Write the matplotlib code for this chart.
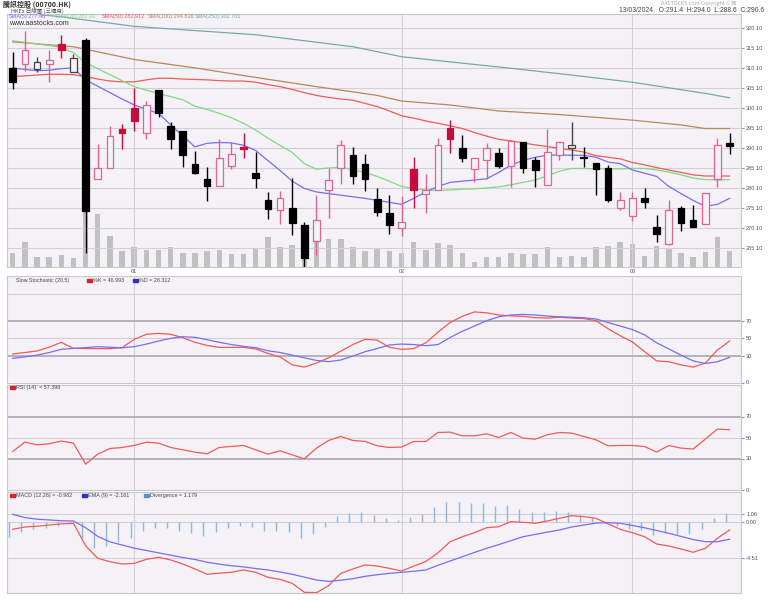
import matplotlib
matplotlib.use('Agg')
import matplotlib.pyplot as plt
import numpy as np

# ---- data (00700.HK, daily, 3 months) ----
opens = [310.2, 311.1, 309.8, 311.1, 316.2, 309.2, 317.2, 282.3, 285.2, 295.0,
         300.1, 294.0, 304.6, 295.6, 294.5, 286.1, 282.3, 280.6, 285.7, 290.3,
         283.9, 277.1, 274.7, 275.1, 270.8, 266.9, 279.7, 285.2, 288.4, 286.0,
         277.3, 273.9, 270.1, 284.8, 278.6, 279.7, 295.2, 290.0, 284.8, 287.1,
         288.8, 285.7, 291.5, 287.1, 280.8, 288.3, 290.0, 287.7, 286.4, 285.2,
         275.2, 273.1, 277.5, 270.3, 266.0, 275.0, 272.1, 271.2, 282.3, 291.4]
highs = [314.2, 319.5, 312.8, 314.7, 318.4, 313.8, 317.6, 291.1, 295.7, 296.1,
         305.2, 301.9, 304.6, 296.7, 294.5, 289.3, 285.3, 292.5, 291.5, 294.0,
         289.2, 279.1, 279.4, 282.7, 271.6, 278.4, 285.0, 292.1, 290.4, 288.6,
         280.2, 278.3, 278.1, 287.8, 283.6, 292.7, 297.1, 293.5, 287.7, 291.3,
         290.0, 291.9, 291.5, 287.8, 294.9, 291.5, 296.7, 290.4, 286.4, 285.8,
         279.1, 279.1, 280.2, 273.3, 277.2, 275.6, 275.8, 278.8, 292.7, 294.0]
lows = [304.8, 309.4, 309.2, 306.7, 312.6, 309.2, 263.7, 282.3, 285.0, 289.8,
        294.4, 292.5, 297.9, 289.8, 285.3, 283.5, 276.9, 280.6, 284.8, 287.7,
        280.0, 272.3, 271.2, 268.3, 260.1, 263.3, 272.5, 281.0, 281.2, 279.4,
        273.1, 268.5, 268.1, 275.1, 273.9, 279.7, 288.9, 286.5, 281.7, 282.3,
        285.2, 280.4, 283.9, 280.4, 280.8, 287.0, 287.1, 285.4, 278.3, 276.5,
        274.7, 271.9, 275.0, 266.5, 265.8, 269.4, 270.4, 271.2, 280.4, 288.6]
closes = [306.7, 314.7, 311.7, 312.1, 314.6, 312.7, 274.4, 285.2, 293.1, 293.9,
          296.9, 300.9, 299.0, 292.5, 288.3, 283.9, 280.5, 287.5, 288.5, 289.8,
          282.7, 274.8, 277.7, 271.4, 262.5, 272.2, 282.0, 290.9, 283.1, 282.3,
          274.0, 270.8, 271.6, 279.6, 279.7, 290.9, 292.4, 287.5, 287.7, 290.2,
          285.7, 291.9, 285.0, 284.5, 289.0, 291.5, 290.9, 287.7, 284.9, 277.0,
          277.2, 277.5, 276.5, 268.5, 274.7, 271.4, 270.4, 278.8, 290.9, 290.6]
prev_close0 = 311.0
volume = [14.3, 25.3, 10.3, 10.3, 12.0, 8.7, 58.0, 53.0, 31.0, 16.3,
          19.7, 17.0, 17.0, 19.7, 13.7, 13.7, 16.0, 17.0, 12.7, 13.0,
          18.0, 29.7, 19.7, 22.0, 24.0, 28.7, 27.7, 28.0, 20.3, 16.3,
          18.0, 16.3, 14.3, 25.3, 17.0, 23.7, 22.0, 14.3, 5.3, 9.7,
          10.3, 14.0, 12.7, 12.7, 19.7, 9.7, 11.0, 9.7, 19.7, 21.3,
          24.7, 23.0, 11.0, 21.3, 19.3, 14.3, 10.3, 14.7, 29.7, 16.3]

sma5 = [310.2, 309.8, 309.5, 309.6, 310.0, 310.2, 307.2, 305.6, 304.0, 302.4,
        300.9, 299.8, 298.8, 295.9, 293.2, 290.4, 291.3, 291.5, 291.4, 290.8,
        289.5, 287.0, 284.5, 281.8, 280.0, 279.1, 278.7, 278.3, 277.9, 277.5,
        277.0, 276.5, 276.0, 277.5, 279.1, 280.5, 281.5, 281.8, 282.1, 282.4,
        284.0, 285.8, 287.0, 287.8, 288.3, 288.4, 288.3, 288.3, 287.8, 286.6,
        286.2, 284.6, 283.8, 283.0, 280.5, 278.7, 277.0, 275.5, 276.0, 277.5]
sma20 = [317.0, 316.6, 316.2, 315.8, 315.3, 314.0, 311.5, 310.0, 308.5, 307.0,
         305.5, 304.6, 303.8, 303.0, 302.2, 300.6, 299.8, 298.8, 297.7, 296.3,
         294.6, 292.6, 290.8, 289.0, 286.2, 284.8, 285.1, 285.3, 284.7, 284.0,
         283.0, 281.8, 280.5, 280.0, 279.6, 279.5, 279.6, 279.8, 279.9, 280.1,
         280.4, 280.9, 281.5, 282.1, 283.2, 284.3, 285.0, 285.0, 284.9, 284.9,
         284.9, 285.0, 285.0, 284.6, 284.1, 283.4, 282.6, 282.2, 282.1, 282.2]
sma50 = [308.0, 308.2, 308.4, 308.6, 308.6, 308.5, 308.0, 307.4, 306.9, 306.7,
         306.7, 307.2, 307.6, 307.6, 307.4, 307.3, 307.2, 307.0, 306.9, 306.9,
         306.6, 306.0, 305.5, 304.8, 304.0, 303.3, 302.8, 302.4, 302.1, 301.3,
         300.5, 299.4, 298.2, 297.6, 296.9, 296.3, 295.7, 295.0, 294.0, 293.1,
         292.3, 291.9, 291.4, 290.9, 290.5, 290.0, 289.6, 289.1, 288.2, 287.8,
         287.4, 286.5, 285.9, 285.2, 284.6, 284.0, 283.4, 283.1, 283.1, 283.1]
sma100_idx = [0, 5, 10, 15, 20, 25, 30, 32, 36, 40, 45, 51, 55, 57, 59]
sma100 = [316.7, 315.5, 312.3, 310.2, 307.8, 305.5, 303.3, 301.9, 300.9, 299.4,
          298.5, 297.1, 295.9, 295.0, 295.0]
sma250_idx = [0, 4, 10, 20, 28, 32, 36, 41, 46, 51, 57, 59]
sma250 = [324.2, 323.0, 320.6, 318.5, 315.5, 313.0, 311.7, 310.1, 308.4, 306.6,
          303.8, 302.7]

stoch_k = [32.3, 34.0, 35.7, 40.0, 45.5, 38.7, 38.5, 38.4, 38.4, 39.4,
           48.9, 54.6, 55.7, 54.6, 50.8, 45.5, 42.0, 39.8, 39.8, 39.8,
           38.0, 33.0, 29.0, 20.0, 17.5, 22.0, 28.0, 35.5, 43.0, 49.0,
           48.0, 40.0, 37.5, 38.5, 45.0, 57.0, 68.0, 75.0, 80.0, 79.0,
           76.5, 75.5, 75.0, 73.5, 73.0, 74.0, 73.0, 72.5, 70.0, 61.0,
           53.0, 46.0, 35.0, 24.5, 23.5, 20.0, 17.5, 22.0, 36.8, 47.0]
stoch_d = [27.4, 29.0, 31.1, 34.0, 37.6, 38.7, 39.5, 40.6, 40.0, 39.4,
           40.6, 43.5, 47.0, 50.0, 51.9, 51.2, 48.5, 45.5, 43.0, 41.0,
           39.4, 36.0, 34.0, 31.0, 28.0, 25.0, 23.6, 25.5, 30.0, 34.9,
           38.5, 42.5, 43.6, 43.0, 41.7, 43.0, 51.0, 58.0, 64.0, 70.0,
           74.5, 76.5, 77.2, 76.5, 75.3, 74.5, 74.0, 73.4, 72.0, 68.0,
           64.0, 60.0, 54.0, 45.0, 38.0, 31.0, 24.5, 21.5, 23.5, 28.5]
rsi = [36.7, 45.6, 43.0, 44.0, 46.6, 44.6, 24.6, 34.2, 39.5, 40.5,
       42.4, 45.6, 44.6, 40.5, 38.3, 36.0, 34.5, 40.5, 41.5, 42.4,
       38.3, 34.2, 37.3, 33.5, 29.7, 39.9, 47.2, 51.0, 47.2, 46.3,
       42.1, 40.5, 40.9, 46.2, 46.2, 54.8, 55.1, 51.6, 51.6, 53.5,
       50.0, 54.8, 49.4, 48.4, 52.6, 54.8, 54.2, 51.0, 47.8, 42.1,
       42.4, 42.4, 41.4, 36.1, 42.4, 39.9, 39.0, 48.4, 58.0, 57.4]
macd = [-0.89, -0.60, -0.50, -0.35, -0.20, -0.13, -2.99, -4.60, -5.03, -5.33,
        -5.25, -4.73, -4.47, -4.81, -5.33, -5.96, -6.64, -6.50, -6.39, -6.09,
        -6.39, -7.02, -7.30, -7.79, -8.94, -8.98, -8.09, -6.52, -5.96, -5.45,
        -5.58, -5.88, -6.22, -5.60, -5.00, -3.90, -2.48, -1.84, -1.33, -0.69,
        -0.56, 0.08, 0.00, -0.13, 0.17, 0.51, 0.85, 0.72, 0.51, -0.20,
        -0.89, -1.33, -1.84, -2.77, -3.03, -3.41, -3.83, -3.32, -2.04, -0.98]
macd_ema = [1.02, 0.60, 0.40, 0.30, 0.20, 0.17, -0.69, -1.80, -2.50, -2.90,
            -3.30, -3.60, -3.90, -4.20, -4.50, -4.75, -5.10, -5.35, -5.55, -5.70,
            -5.90, -6.09, -6.35, -6.64, -7.00, -7.37, -7.55, -7.40, -7.20, -6.90,
            -6.70, -6.52, -6.39, -6.25, -6.09, -5.50, -4.94, -4.40, -3.85, -3.32,
            -2.85, -2.35, -1.84, -1.55, -1.25, -0.98, -0.60, -0.35, -0.10, -0.04,
            -0.13, -0.40, -0.70, -1.05, -1.40, -1.80, -2.20, -2.48, -2.48, -2.16]
divergence = [-1.83, -1.19, -0.89, -0.77, -0.43, -0.21, -2.04, -3.23, -2.98, -2.55,
              -1.96, -1.11, -0.68, -0.77, -1.06, -1.32, -1.70, -1.28, -0.77, -0.43,
              -0.55, -1.06, -1.11, -1.28, -1.96, -1.53, -0.55, 0.81, 1.23, 1.36,
              0.94, 0.51, 0.30, 0.72, 1.02, 1.91, 2.64, 2.55, 2.51, 2.51,
              2.13, 2.21, 1.70, 1.28, 1.28, 1.45, 1.28, 0.94, 0.64, 0.05,
              -0.43, -0.89, -0.98, -1.62, -1.40, -1.49, -1.53, -0.85, 0.51, 1.23]

month_pos = [10, 32, 51]
month_labels = ['01', '02', '03']
price_ticks = [265.1, 270.1, 275.1, 280.1, 285.1, 290.1, 295.1, 300.1, 305.1, 310.1, 315.1, 320.1]

# ---- layout ----
W, H = 768, 601
BG = '#f4f2f7'
GRID = '#d2d0d6'
PINK = '#e0648e'
CRIMSON = '#c30c3c'
PURPLE = '#7b6cf0'
GREEN = '#84d684'
RED = '#f25a5a'
BROWN = '#b8875e'
TEAL = '#78a8aa'
LAT = 'Liberation Sans'
CJK = ['Noto Sans CJK TC', 'Liberation Sans']


def rect(l, t, r, b):
    return [l / W, 1 - b / H, (r - l) / W, (b - t) / H]


def style(ax):
    ax.set_facecolor(BG)
    for s in ax.spines.values():
        s.set_color('#c8c8cc')
        s.set_linewidth(0.8)
    ax.yaxis.tick_right()
    ax.tick_params(axis='y', which='both', length=2.5, color='#999999',
                   labelsize=4.1, labelcolor='#555555', pad=1.2)
    ax.tick_params(axis='x', length=0, labelsize=4.1, labelcolor='#555555', pad=1.5)
    for lab in ax.get_yticklabels() + ax.get_xticklabels():
        lab.set_family(LAT)
    ax.set_xlim(-0.47, 59.94)
    for m in month_pos:
        ax.axvline(m, color=GRID, lw=0.8, zorder=1)


def fix_fonts(ax):
    for lab in ax.get_yticklabels() + ax.get_xticklabels():
        lab.set_family(LAT)


fig = plt.figure(figsize=(W / 100, H / 100), dpi=100)
n = len(closes)
x = np.arange(n)

# price panel with volume behind
vax = fig.add_axes(rect(7, 14, 741, 267))
vax.set_facecolor(BG)
vax.bar(x, volume, width=0.45, color='#c0c0c0', zorder=1)
vax.set_ylim(0, 253)
vax.set_xlim(-0.47, 59.94)
vax.set_xticks([])
vax.set_yticks([])
for s in vax.spines.values():
    s.set_visible(False)

ax = fig.add_axes(rect(7, 14, 741, 267))
style(ax)
ax.patch.set_visible(False)
ax.set_ylim(260.3, 323.7)
ax.set_yticks(price_ticks)
ax.set_yticklabels(['%.2f' % t for t in price_ticks])
for t in price_ticks:
    ax.axhline(t, color=GRID, lw=0.8, zorder=0)
ax.set_xticks(month_pos)
ax.set_xticklabels(month_labels)
fix_fonts(ax)

ax.plot(sma250_idx, sma250, color=TEAL, lw=0.9, zorder=2)
ax.plot(sma100_idx, sma100, color=BROWN, lw=0.9, zorder=2)
ax.plot(x, sma50, color=RED, lw=0.9, zorder=2)
ax.plot(x, sma20, color=GREEN, lw=0.9, zorder=2)
ax.plot(x, sma5, color=PURPLE, lw=0.9, zorder=2)

prev = [prev_close0] + closes[:-1]
for i in range(n):
    o, h, l, c = opens[i], highs[i], lows[i], closes[i]
    rise = c >= prev[i]
    hollow = c > o
    if hollow:
        edge = PINK if rise else '#444444'
        face = BG
    else:
        edge = CRIMSON if rise else 'black'
        face = edge
    ax.vlines(i, l, h, color=edge, lw=1.0, zorder=3)
    ax.bar(i, max(abs(c - o), 0.15), bottom=min(o, c), width=0.55,
           facecolor=face, edgecolor=edge, lw=0.9, zorder=4)

# slow stochastic
sax = fig.add_axes(rect(7, 276, 741, 382.5))
style(sax)
sax.set_ylim(0, 120.7)
sax.set_yticks([0, 30, 50, 70])
sax.set_xticks([])
fix_fonts(sax)
for lvl, c, w in [(100, GRID, 0.8), (70, '#b4b2b8', 1.4), (50, GRID, 0.8), (30, '#b4b2b8', 1.4)]:
    sax.axhline(lvl, color=c, lw=w, zorder=1)
sax.plot(x, stoch_k, color=RED, lw=0.9, zorder=3)
sax.plot(x, stoch_d, color=PURPLE, lw=0.9, zorder=3)

# RSI
rax = fig.add_axes(rect(7, 385, 741, 490))
style(rax)
rax.set_ylim(0, 100)
rax.set_yticks([0, 30, 50, 70])
rax.set_xticks([])
fix_fonts(rax)
for lvl, c, w in [(70, '#b4b2b8', 1.4), (50, GRID, 0.8), (30, '#b4b2b8', 1.4)]:
    rax.axhline(lvl, color=c, lw=w, zorder=1)
rax.plot(x, rsi, color=RED, lw=0.9, zorder=3)

# MACD
max_ = fig.add_axes(rect(7, 491.7, 741, 593.3))
style(max_)
max_.set_ylim(-9.07, 3.91)
max_.set_yticks([-4.51, 0.0, 1.06])
max_.set_yticklabels(['-4.51', '0.00', '1.06'])
max_.set_xticks([])
fix_fonts(max_)
for lvl in [1.06, 0.0, -4.51]:
    max_.axhline(lvl, color=GRID, lw=0.8, zorder=1)
max_.vlines(x - 0.3, 0, divergence, color='#8cb8e2', lw=1.0, zorder=2)
max_.plot(x, macd, color=RED, lw=0.9, zorder=3)
max_.plot(x, macd_ema, color=PURPLE, lw=0.9, zorder=3)


def ftext(px, py, s, **kw):
    kw.setdefault('fontsize', 3.9)
    kw.setdefault('va', 'center')
    kw.setdefault('family', LAT)
    fig.text(px / W, 1 - py / H, s, **kw)


def box(px, py, c):
    fig.patches.append(plt.Rectangle((px / W, 1 - (py + 1.5) / H), 5 / W, 3 / H,
                                     transform=fig.transFigure, color=c))


# header
ftext(3, 4, '騰訊控股 (00700.HK)', fontsize=5.0, color='#333333', family=CJK, weight='bold')
ftext(11, 10.5, 'HKEx 日線圖 (三個月)', fontsize=4.0, color='#444444', family=CJK)
sma_labels = [(9, 'SMA(5):277.46', PURPLE), (56, 'SMA(20):282.93', GREEN),
              (102, 'SMA(50):282.912', RED), (148, 'SMA(100):294.836', BROWN),
              (195, 'SMA(250):302.701', TEAL)]
for px, s, c in sma_labels:
    ftext(px, 16.5, s, color=c, fontsize=4.0)
ftext(9, 23.5, 'www.aastocks.com', fontsize=5.0, color='#333333')
ftext(737, 3.5, 'AASTOCKS.com Copyright © 阿', fontsize=3.8, color='#aaaaaa',
      ha='right', family=CJK)
ftext(764, 11, '13/03/2024   O:291.4  H:294.0  L:288.6  C:290.6', fontsize=4.9,
      color='#444444', ha='right')

# indicator legends
ftext(16, 280.5, 'Slow Stochastic (20,5)', color='#444444', fontsize=3.8)
box(87, 280.5, '#e02020')
ftext(93, 280.5, '%K = 46.993', color='#444444')
box(133, 280.5, '#3030c8')
ftext(139, 280.5, '%D = 28.312', color='#444444')

box(10, 387, '#e02020')
ftext(16, 387, 'RSI (14)  = 57.398', color='#444444')

box(10, 495.5, '#e02020')
ftext(16, 495.5, 'MACD (12,26) = -0.982', color='#444444')
box(82, 495.5, '#3030c8')
ftext(88, 495.5, 'EMA (9) = -2.161', color='#444444')
box(144, 495.5, '#5a90cc')
ftext(150, 495.5, 'Divergence = 1.179', color='#444444')

fig.savefig('out.png', dpi=100, facecolor='white')
